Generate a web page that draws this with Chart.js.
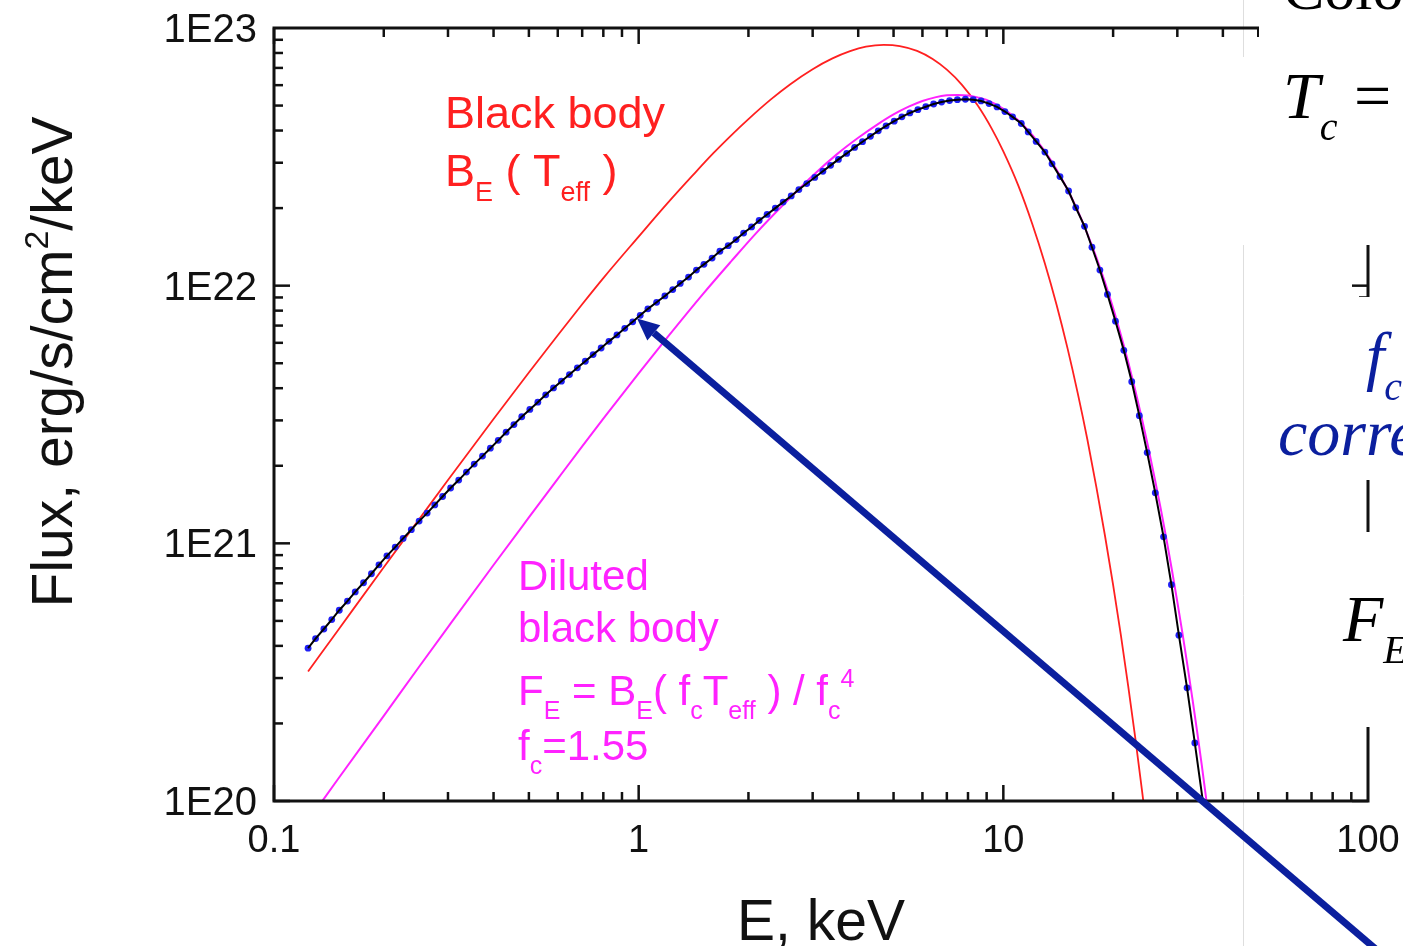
<!DOCTYPE html>
<html>
<head>
<meta charset="utf-8">
<script src="https://cdn.jsdelivr.net/npm/chart.js@4.4.0/dist/chart.umd.min.js"></script>
<style>
  html, body { margin: 0; padding: 0; background: #fff; }
  #wrap { width: 1403px; height: 946px; position: relative; }
</style>
</head>
<body>
<div id="wrap"><canvas id="spec" width="1403" height="946"></canvas></div>
<script>
// Model atmosphere spectrum (black line with blue points), keV
const modelE = [0.124,0.130,0.137,0.144,0.151,0.159,0.167,0.176,0.185,0.194,
  0.204,0.215,0.226,0.238,0.250,0.263,0.276,0.290,0.305,0.321,
  0.337,0.354,0.373,0.392,0.412,0.433,0.455,0.478,0.503,0.529,
  0.556,0.584,0.614,0.646,0.679,0.714,0.750,0.789,0.829,0.872,
  0.916,0.963,1.01,1.06,1.12,1.18,1.24,1.30,1.37,1.44,
  1.51,1.59,1.67,1.76,1.85,1.94,2.04,2.14,2.25,2.37,
  2.49,2.62,2.75,2.89,3.04,3.20,3.36,3.53,3.72,3.91,
  4.11,4.32,4.54,4.77,5.02,5.27,5.54,5.83,6.13,6.44,
  6.77,7.12,7.48,7.87,8.27,8.69,9.14,9.61,10.1,10.6,
  11.2,11.7,12.3,13.0,13.6,14.3,15.1,15.8,16.7,17.5,
  18.4,19.3,20.3,21.4,22.5,23.6,24.8,26.1,27.5,28.9,
  30.3,31.9,33.5,35.3];
const modelFlux = [3.92e20,4.27e20,4.65e20,5.06e20,5.50e20,5.97e20,6.48e20,7.03e20,7.62e20,8.25e20,
  8.94e20,9.67e20,1.045e21,1.13e21,1.22e21,1.31e21,1.41e21,1.52e21,1.64e21,1.76e21,
  1.89e21,2.03e21,2.18e21,2.34e21,2.51e21,2.70e21,2.89e21,3.10e21,3.31e21,3.53e21,
  3.77e21,4.01e21,4.26e21,4.52e21,4.80e21,5.09e21,5.40e21,5.73e21,6.08e21,6.44e21,
  6.83e21,7.24e21,7.67e21,8.13e21,8.62e21,9.12e21,9.66e21,1.02e22,1.08e22,1.15e22,
  1.21e22,1.28e22,1.36e22,1.43e22,1.51e22,1.60e22,1.69e22,1.79e22,1.89e22,2.00e22,
  2.11e22,2.23e22,2.36e22,2.49e22,2.63e22,2.78e22,2.93e22,3.09e22,3.26e22,3.44e22,
  3.62e22,3.80e22,3.99e22,4.17e22,4.35e22,4.52e22,4.68e22,4.82e22,4.95e22,5.07e22,
  5.16e22,5.23e22,5.27e22,5.29e22,5.27e22,5.21e22,5.09e22,4.94e22,4.74e22,4.52e22,
  4.26e22,3.95e22,3.63e22,3.30e22,2.97e22,2.65e22,2.33e22,2.01e22,1.70e22,1.41e22,
  1.15e22,9.25e21,7.28e21,5.61e21,4.24e21,3.13e21,2.25e21,1.57e21,1.06e21,6.91e20,
  4.40e20,2.75e20,1.68e20,9.83e19];

// Black body B_E(T_eff) (red)
const bbE = [0.124,0.15,0.2,0.25,0.3,0.4,0.5,0.6,0.7,0.8,1.0,1.2,1.4,1.6,1.8,2.0,2.3,2.6,3.0,3.4,
  3.8,4.2,4.7,5.2,5.8,6.4,7.0,7.7,8.5,9.3,10,11,12,13,14,15,16,17,18,19,20,21,22,23,24,25];
const bbFlux = [3.18e20,4.61e20,8.08e20,1.24e21,1.76e21,3.04e21,4.60e21,6.42e21,8.47e21,1.07e22,
  1.55e22,2.09e22,2.66e22,3.26e22,3.85e22,4.43e22,5.27e22,6.04e22,6.92e22,7.62e22,
  8.13e22,8.46e22,8.60e22,8.51e22,8.15e22,7.58e22,6.89e22,6.02e22,5.01e22,4.06e22,
  3.32e22,2.44e22,1.74e22,1.22e22,8.42e21,5.71e21,3.82e21,2.53e21,1.65e21,1.07e21,
  6.90e20,4.41e20,2.79e20,1.76e20,1.10e20,6.88e19];

// Diluted black body, f_c = 1.55 (magenta)
const dilE = [0.13,0.15,0.2,0.25,0.3,0.4,0.5,0.6,0.7,0.8,1.0,1.2,1.5,1.8,2.1,2.5,3.0,3.5,4.0,4.5,
  5.0,5.5,6.0,6.5,7.0,7.5,8.0,8.5,9.0,10,11,12,13,14,15,16,17,18,19,20,
  21,22,23,24,25,26,27,28,29,30,31,32,33,34,35,36,37];
const dilFlux = [9.18e19,1.22e20,2.14e20,3.32e20,4.73e20,8.24e20,1.26e21,1.78e21,2.38e21,3.05e21,
  4.57e21,6.31e21,9.27e21,1.25e22,1.60e22,2.07e22,2.67e22,3.24e22,3.75e22,4.21e22,
  4.62e22,4.95e22,5.21e22,5.38e22,5.48e22,5.50e22,5.47e22,5.38e22,5.26e22,4.86e22,
  4.38e22,3.85e22,3.32e22,2.82e22,2.36e22,1.95e22,1.59e22,1.285e22,1.03e22,8.18e21,
  6.45e21,5.05e21,3.93e21,3.04e21,2.34e21,1.79e21,1.37e21,1.04e21,7.86e20,5.93e20,
  4.46e20,3.34e20,2.49e20,1.86e20,1.38e20,1.02e20,7.56e19];

const xTickVals = [0.1, 1, 10, 100];
const xTickLabels = ['0.1', '1', '10', '100'];
const yTickVals = [1e20, 1e21, 1e22, 1e23];
const yTickLabels = ['1E20', '1E21', '1E22', '1E23'];

// where the arrow points (on the model curve)
const arrowTip = { E: 0.99, F: 7.45e21 };

const SANS = '"Liberation Sans", Arial, sans-serif';
const SERIF = '"Liberation Serif", "Times New Roman", serif';
const RED = '#ff2020';
const MAG = '#ff22ff';
const NAVY = '#0b1f9e';

function pts(xs, ys) {
  return xs.map((x, i) => ({ x: x, y: ys[i] }));
}

// text with sub/superscripts, left aligned at (x, y) baseline
function richText(c, x, y, parts, size, color, family, draw) {
  let cx = x;
  c.fillStyle = color;
  c.textAlign = 'left';
  c.textBaseline = 'alphabetic';
  parts.forEach(p => {
    const small = p.sub || p.sup;
    const s = small ? Math.round(size * 0.6) : size;
    c.font = (p.it ? 'italic ' : '') + s + 'px ' + family;
    const dy = p.sub ? size * 0.33 : (p.sup ? -size * 0.42 : 0);
    if (draw !== false) c.fillText(p.t, cx, y + dy);
    cx += c.measureText(p.t).width;
  });
  return cx - x;
}

function seg(c, x1, y1, x2, y2) {
  c.beginPath();
  c.moveTo(x1, y1);
  c.lineTo(x2, y2);
  c.stroke();
}

const framePlugin = {
  id: 'frame',
  beforeDatasetsDraw(chart) {
    const c = chart.ctx;
    c.save();
    c.strokeStyle = '#dedede';
    c.lineWidth = 1;
    seg(c, 1243.5, 0, 1243.5, 57);
    seg(c, 1243.5, 245, 1243.5, 946);
    c.restore();
  },
  afterDraw(chart) {
    const c = chart.ctx;
    const { left, right, top, bottom } = chart.chartArea;
    const xs = chart.scales.x, ys = chart.scales.y;
    c.save();
    c.strokeStyle = '#111';
    c.lineWidth = 3;
    c.strokeRect(left, top, right - left, bottom - top);

    // inward ticks on all four sides
    c.lineWidth = 2.5;
    for (let d = -1; d <= 1; d++) {
      for (let m = 1; m <= 9; m++) {
        const px = xs.getPixelForValue(m * Math.pow(10, d));
        const len = m === 1 ? 16 : 9;
        seg(c, px, bottom, px, bottom - len);
        seg(c, px, top, px, top + len);
      }
    }
    for (let d = 20; d <= 22; d++) {
      for (let m = 1; m <= 9; m++) {
        const py = ys.getPixelForValue(m * Math.pow(10, d));
        const len = m === 1 ? 16 : 9;
        seg(c, left, py, left + len, py);
        seg(c, right, py, right - len, py);
      }
    }

    // tick labels
    c.fillStyle = '#111';
    c.font = '38px ' + SANS;
    c.textBaseline = 'alphabetic';
    c.textAlign = 'center';
    xTickVals.forEach((v, i) => c.fillText(xTickLabels[i], xs.getPixelForValue(v), 852));
    c.font = '40px ' + SANS;
    c.textAlign = 'right';
    yTickVals.forEach((v, i) => c.fillText(yTickLabels[i], 257, ys.getPixelForValue(v) + 14));

    // axis titles
    c.textAlign = 'center';
    c.font = '57px ' + SANS;
    c.fillText('E, keV', (left + right) / 2, 940);
    const yParts = [{ t: 'Flux, erg/s/cm' }, { t: '2', sup: true }, { t: '/keV' }];
    c.save();
    c.translate(72, 362);
    c.rotate(-Math.PI / 2);
    const w = richText(c, 0, 0, yParts, 57, '#111', SANS, false);
    richText(c, -w / 2, 0, yParts, 57, '#111', SANS);
    c.restore();

    // curve annotations
    richText(c, 445, 128, [{ t: 'Black body' }], 45, RED, SANS);
    richText(c, 445, 186, [{ t: 'B' }, { t: 'E', sub: true }, { t: ' ( ' }, { t: 'T' },
      { t: 'eff', sub: true }, { t: ' )' }], 45, RED, SANS);
    richText(c, 518, 590, [{ t: 'Diluted' }], 42, MAG, SANS);
    richText(c, 518, 642, [{ t: 'black body' }], 42, MAG, SANS);
    richText(c, 518, 705, [{ t: 'F' }, { t: 'E', sub: true }, { t: ' = B' }, { t: 'E', sub: true },
      { t: '( f' }, { t: 'c', sub: true }, { t: 'T' }, { t: 'eff', sub: true }, { t: ' ) / f' },
      { t: 'c', sub: true }, { t: '4', sup: true }], 42, MAG, SANS);
    richText(c, 518, 760, [{ t: 'f' }, { t: 'c', sub: true }, { t: '=1.55' }], 42, MAG, SANS);

    // slide text boxes covering the right edge of the plot
    c.fillStyle = '#fff';
    c.fillRect(1259, 0, 144, 245);
    c.fillRect(1259, 297, 144, 183);
    c.fillRect(1259, 532, 144, 195);
    richText(c, 1283, 9, [{ t: 'Colour' }], 62, '#000', SERIF);
    richText(c, 1283, 118, [{ t: 'T', it: true }, { t: 'c', it: true, sub: true }, { t: ' =' }], 66, '#000', SERIF);
    richText(c, 1366, 378, [{ t: 'f', it: true }, { t: 'c', it: true, sub: true }], 66, NAVY, SERIF);
    richText(c, 1278, 455, [{ t: 'correction', it: true }], 66, NAVY, SERIF);
    richText(c, 1343, 641, [{ t: 'F', it: true }, { t: 'E', it: true, sub: true }], 66, '#000', SERIF);

    // arrow from the lower right to the model curve
    const tx = xs.getPixelForValue(arrowTip.E), ty = ys.getPixelForValue(arrowTip.F);
    const sx = 1378, sy = 951;
    const ang = Math.atan2(ty - sy, tx - sx);
    const head = 22, half = 10;
    const bx = tx - head * Math.cos(ang), by = ty - head * Math.sin(ang);
    c.strokeStyle = NAVY;
    c.lineWidth = 7;
    seg(c, sx, sy, bx, by);
    c.fillStyle = NAVY;
    c.beginPath();
    c.moveTo(tx, ty);
    c.lineTo(bx + half * Math.sin(ang), by - half * Math.cos(ang));
    c.lineTo(bx - half * Math.sin(ang), by + half * Math.cos(ang));
    c.closePath();
    c.fill();
    c.restore();
  }
};

const ctx = document.getElementById('spec').getContext('2d');
const spectrumChart = new Chart(ctx, {
  type: 'scatter',
  data: {
    datasets: [
      {
        label: 'Model',
        data: pts(modelE, modelFlux),
        showLine: true,
        borderColor: '#000',
        borderWidth: 2,
        pointRadius: 0,
        order: 0
      },
      {
        label: 'Model points',
        data: pts(modelE, modelFlux),
        showLine: false,
        pointRadius: 3.4,
        pointBorderWidth: 0,
        pointBackgroundColor: '#1f1ff5',
        order: 1
      },
      {
        label: 'Diluted black body',
        data: pts(dilE, dilFlux),
        showLine: true,
        borderColor: MAG,
        borderWidth: 2,
        pointRadius: 0,
        cubicInterpolationMode: 'monotone',
        order: 2
      },
      {
        label: 'Black body',
        data: pts(bbE, bbFlux),
        showLine: true,
        borderColor: RED,
        borderWidth: 1.8,
        pointRadius: 0,
        cubicInterpolationMode: 'monotone',
        order: 3
      }
    ]
  },
  options: {
    responsive: false,
    animation: false,
    devicePixelRatio: 1,
    events: [],
    layout: { padding: { top: 28, right: 35, left: 0, bottom: 0 } },
    plugins: {
      legend: { display: false },
      tooltip: { enabled: false }
    },
    scales: {
      x: {
        type: 'logarithmic',
        min: 0.1,
        max: 100,
        ticks: { display: false },
        grid: { display: false },
        border: { display: false },
        afterFit: function(scale) { scale.height = 145; }
      },
      y: {
        type: 'logarithmic',
        min: 1e20,
        max: 1e23,
        ticks: { display: false },
        grid: { display: false },
        border: { display: false },
        afterFit: function(scale) { scale.width = 274; }
      }
    }
  },
  plugins: [framePlugin]
});
</script>
</body>
</html>
